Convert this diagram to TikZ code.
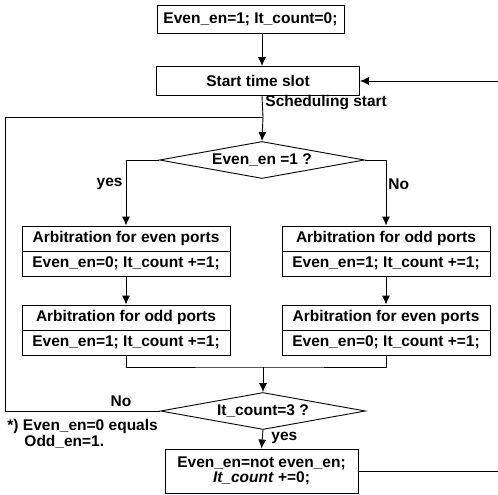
\documentclass[tikz,border=0pt]{standalone}
\usepackage{fontspec}
\setmainfont{Liberation Sans}
\usetikzlibrary{shapes.geometric,arrows.meta}

\begin{document}
\begin{tikzpicture}[x=1pt, y=-1pt, line width=0.9pt,
    font=\bfseries\fontsize{15.5}{17}\selectfont,
    >={Latex[length=9pt,width=8pt]}]
        \tikzstyle{block}=[draw,rectangle,inner sep=0pt]
        \tikzstyle{part}=[draw,rectangle,minimum width=208pt,minimum height=25pt,inner sep=0pt]
        \tikzstyle{decision}=[draw,diamond,aspect=5.5,minimum width=205pt,minimum height=37pt,inner sep=0pt]
        \tikzstyle{tag}=[inner sep=1pt]

        \useasboundingbox (0,0) rectangle (498,495);

        \node[block,minimum width=187pt,minimum height=28pt] (F_1) at (250.5,19) {Even\_en=1; It\_count=0;};
        \node[block,minimum width=203pt,minimum height=29pt] (F_2) at (258,81) {Start time slot};
        \node[decision] (D_1) at (262,160) {Even\_en =1 ?};

        \node[part] (A_1) at (126,238.5) {Arbitration for even ports};
        \node[part] (A_2) at (126,263.5) {Even\_en=0; It\_count +=1;};
        \node[part] (A_3) at (126,317.5) {Arbitration for odd ports};
        \node[part] (A_4) at (126,342.5) {Even\_en=1; It\_count +=1;};

        \node[part] (B_1) at (386,238.5) {Arbitration for odd ports};
        \node[part] (B_2) at (386,263.5) {Even\_en=1; It\_count +=1;};
        \node[part] (B_3) at (386,317.5) {Arbitration for even ports};
        \node[part] (B_4) at (386,342.5) {Even\_en=0; It\_count +=1;};

        \node[decision] (D_2) at (263,411) {It\_count=3 ?};
        \node[block,minimum width=193pt,minimum height=44pt,align=center] (E_1) at (261.5,471)
            {Even\_en=not even\_en;\\[-2pt] \textit{It\_count} +=0;};

        \coordinate (J) at (263,117);
        \coordinate (L) at (5,117);
        \coordinate (M) at (263,367);
        \coordinate (R) at (503,471);

        \draw[->] (F_1.south -| D_1.north) -- (F_2.north -| D_1.north);
        \draw (F_2.south -| D_1.north) -- (J);
        \draw[->] (J) -- (D_1.north);
        \draw[->] (D_1.west) -| (A_1.north);
        \draw[->] (D_1.east) -| (B_1.north);
        \draw[->] (A_2.south) -- (A_3.north);
        \draw[->] (B_2.south) -- (B_3.north);
        \draw (A_4.south) |- (M) -| (B_4.south);
        \draw[->] (M) -- (D_2.north);
        \draw (D_2.west) -| (L) -- (J);
        \draw[->] (D_2.south) -- (E_1.north);
        \draw[->] (E_1.east) -- (E_1.east -| R) |- (F_2.east);

        \node[tag,anchor=west] (T_1) at (264,103) {Scheduling start};
        \node[tag,anchor=east] (T_2) at (124,184) {yes};
        \node[tag,anchor=west] (T_3) at (387,184) {No};
        \node[tag] (T_4) at (121,401) {No};
        \node[tag,anchor=west] (T_5) at (270,438) {yes};
        \node[tag,anchor=west] (T_6) at (6,426) {*) Even\_en=0 equals};
        \node[tag,anchor=west] (T_7) at (23,442) {Odd\_en=1.};
\end{tikzpicture}
\end{document}
